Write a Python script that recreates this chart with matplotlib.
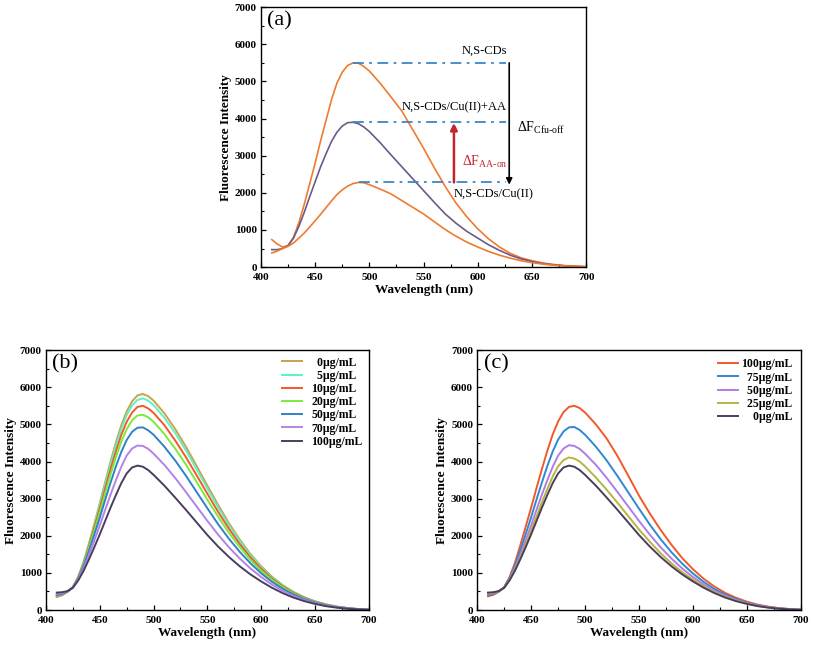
from matplotlib import rcParams
rcParams['font.family'] = 'serif'
rcParams['font.serif'] = ['Liberation Serif', 'DejaVu Serif']
rcParams['mathtext.fontset'] = 'custom'
rcParams['mathtext.rm'] = 'Liberation Serif'
rcParams['mathtext.it'] = 'Liberation Serif:italic'
rcParams['mathtext.bf'] = 'Liberation Serif:bold'
rcParams['xtick.direction'] = 'in'
rcParams['ytick.direction'] = 'in'

import matplotlib.pyplot as plt
from matplotlib.ticker import MultipleLocator

# длины волн, нм
wl = [410, 415, 420, 425, 430, 435, 440, 445, 450, 455, 460, 465, 470, 475,
      480, 485, 490, 495, 500, 510, 520, 530, 540, 550, 560, 570, 580, 590,
      600, 610, 620, 630, 640, 650, 660, 670, 680, 690, 700]

# (a) спектры
a_cds = [740, 620, 540, 580, 800, 1200, 1700, 2250, 2800, 3400, 3950, 4500, 4950,
         5250, 5430, 5500, 5490, 5400, 5280, 4950, 4580, 4200, 3700, 3200, 2670,
         2170, 1720, 1350, 1030, 760, 540, 370, 250, 170, 110, 70, 40, 25, 10]
a_cds_cu_aa = [470, 470, 500, 580, 780, 1100, 1480, 1900, 2300, 2700, 3050, 3380,
               3630, 3800, 3890, 3900, 3860, 3770, 3650, 3350, 3020, 2700, 2380,
               2060, 1740, 1430, 1180, 960, 780, 600, 450, 320, 220, 150, 95, 60,
               35, 18, 8]
a_cds_cu = [380, 430, 500, 560, 650, 780, 920, 1080, 1250, 1420, 1600, 1780, 1950,
            2080, 2180, 2250, 2280, 2270, 2220, 2100, 1970, 1790, 1610, 1430, 1220,
            1010, 830, 670, 540, 420, 320, 240, 170, 120, 80, 50, 30, 18, 10]

# (b) спектры
b_0 = [350, 400, 490, 620, 900, 1300, 1800, 2330, 2880, 3450, 4000, 4520, 4980,
       5350, 5620, 5780, 5820, 5760, 5640, 5300, 4880, 4400, 3880, 3350, 2830,
       2340, 1900, 1510, 1180, 900, 670, 490, 345, 235, 155, 95, 55, 28, 10]
b_5 = [360, 405, 490, 620, 890, 1290, 1770, 2290, 2830, 3390, 3920, 4430, 4880,
       5250, 5510, 5660, 5700, 5640, 5520, 5180, 4770, 4300, 3790, 3270, 2760,
       2280, 1860, 1480, 1150, 880, 660, 480, 340, 230, 150, 90, 55, 27, 10]
b_10 = [370, 410, 495, 615, 885, 1260, 1730, 2230, 2740, 3280, 3790, 4280, 4720,
        5070, 5320, 5470, 5500, 5430, 5310, 4980, 4570, 4120, 3630, 3130, 2640,
        2190, 1780, 1420, 1110, 850, 635, 465, 330, 225, 145, 90, 52, 26, 9]
b_20 = [385, 425, 495, 615, 870, 1230, 1680, 2150, 2640, 3150, 3650, 4120, 4540,
        4870, 5110, 5240, 5260, 5190, 5070, 4740, 4350, 3920, 3450, 2970, 2510,
        2080, 1700, 1350, 1060, 815, 610, 445, 315, 215, 140, 86, 49, 25, 9]
b_50 = [405, 435, 500, 610, 855, 1190, 1600, 2040, 2490, 2970, 3430, 3870, 4260,
        4580, 4800, 4910, 4920, 4840, 4720, 4400, 4030, 3620, 3180, 2740, 2310,
        1920, 1570, 1260, 990, 760, 570, 420, 295, 205, 130, 80, 46, 23, 8]
b_70 = [435, 455, 505, 605, 830, 1130, 1490, 1880, 2280, 2700, 3110, 3500, 3860,
        4160, 4350, 4430, 4420, 4340, 4210, 3910, 3560, 3180, 2790, 2400, 2030,
        1690, 1390, 1120, 890, 685, 515, 380, 270, 185, 120, 75, 40, 21, 7]
b_100 = [470, 480, 510, 600, 800, 1060, 1370, 1700, 2040, 2400, 2760, 3100, 3420,
         3680, 3840, 3890, 3860, 3770, 3640, 3350, 3030, 2700, 2360, 2020, 1710,
         1430, 1180, 960, 770, 600, 455, 335, 240, 165, 105, 65, 35, 18, 6]

# (c) спектры
c_100 = [370, 410, 495, 615, 890, 1270, 1750, 2250, 2760, 3290, 3800, 4290, 4730,
         5080, 5330, 5470, 5500, 5440, 5320, 5000, 4620, 4150, 3620, 3080, 2600,
         2160, 1760, 1400, 1100, 840, 630, 460, 330, 225, 145, 90, 52, 26, 9]
c_75 = [405, 435, 500, 610, 860, 1200, 1610, 2050, 2500, 2980, 3440, 3880, 4270,
        4590, 4810, 4920, 4930, 4850, 4720, 4400, 4030, 3610, 3170, 2730, 2300,
        1910, 1560, 1250, 985, 755, 565, 415, 295, 200, 130, 80, 46, 23, 8]
c_50 = [435, 455, 505, 605, 830, 1130, 1490, 1880, 2280, 2700, 3110, 3500, 3860,
        4160, 4350, 4440, 4420, 4340, 4210, 3910, 3560, 3180, 2790, 2400, 2030,
        1690, 1390, 1120, 890, 685, 515, 380, 270, 185, 120, 75, 40, 21, 7]
c_25 = [455, 470, 510, 600, 810, 1090, 1420, 1770, 2140, 2520, 2900, 3260, 3600,
        3870, 4040, 4110, 4080, 4000, 3870, 3570, 3240, 2890, 2530, 2170, 1840,
        1530, 1260, 1020, 820, 635, 480, 355, 250, 175, 110, 68, 37, 19, 6]
c_0 = [470, 480, 510, 600, 800, 1060, 1370, 1700, 2040, 2400, 2760, 3100, 3420,
       3680, 3840, 3890, 3860, 3770, 3640, 3350, 3030, 2700, 2360, 2020, 1710,
       1430, 1180, 960, 770, 600, 455, 335, 240, 165, 105, 65, 35, 18, 6]

b_labels = ['  0µg/mL', '  5µg/mL', '10µg/mL', '20µg/mL', '50µg/mL', '70µg/mL', '100µg/mL']
b_colors = ['#C9A24C', '#5CF2C6', '#F2592A', '#7DE83C', '#2F82C8', '#B283E6', '#4B3D5E']
c_labels = ['100µg/mL', '  75µg/mL', '  50µg/mL', '  25µg/mL', '    0µg/mL']
c_colors = ['#F2592A', '#2F88D2', '#B07CE6', '#B8B43E', '#4B3D5E']

ORANGE = '#F07A30'
PURPLE = '#6B5A88'
BLUE = '#3A86C8'


def style_axes(ax, letter):
    ax.set_xlim(400, 700)
    ax.set_ylim(0, 7000)
    ax.xaxis.set_major_locator(MultipleLocator(50))
    ax.xaxis.set_minor_locator(MultipleLocator(25))
    ax.yaxis.set_major_locator(MultipleLocator(1000))
    ax.yaxis.set_minor_locator(MultipleLocator(500))
    ax.tick_params(which='major', length=3.5, width=0.9, labelsize=8)
    ax.tick_params(axis='x', which='major', pad=4)
    ax.tick_params(axis='y', which='major', pad=3)
    ax.tick_params(which='minor', length=2, width=0.8)
    for lab in ax.get_xticklabels() + ax.get_yticklabels():
        lab.set_fontweight('bold')
    for sp in ax.spines.values():
        sp.set_linewidth(1.0)
    ax.set_xlabel('Wavelength (nm)', fontsize=9.5, fontweight='bold', labelpad=2)
    ax.set_ylabel('Fluorescence Intensity', fontsize=9.5, fontweight='bold', labelpad=2)
    ax.text(0.02, 0.985, letter, transform=ax.transAxes, fontsize=16,
            va='top', ha='left')


fig = plt.figure(figsize=(8.13, 6.53), dpi=100)

# ---- (a)
ax = fig.add_axes([0.321, 0.591, 0.400, 0.398])
ax.plot(wl, a_cds, color=ORANGE, lw=1.2)
ax.plot(wl, a_cds_cu_aa, color=PURPLE, lw=1.2)
ax.plot(wl, a_cds_cu, color=ORANGE, lw=1.2)
style_axes(ax, '(a)')

x_end = 626
for s in (a_cds, a_cds_cu_aa, a_cds_cu):
    peak = max(s)
    ax.plot([wl[s.index(peak)], x_end], [peak, peak], color=BLUE, lw=1.3,
            ls=(0, (6, 3, 1.5, 3)))
ax.annotate('', xy=(629, max(a_cds_cu) - 60), xytext=(629, max(a_cds)),
            arrowprops=dict(arrowstyle='-|>', color='black', lw=1.2,
                            mutation_scale=9, shrinkA=0, shrinkB=0))
ax.annotate('', xy=(578, max(a_cds_cu_aa) - 20), xytext=(578, max(a_cds_cu)),
            arrowprops=dict(arrowstyle='-|>', color='#C0262C', lw=1.8,
                            mutation_scale=10, shrinkA=0, shrinkB=0))
ax.text(627, 5830, 'N,S-CDs', fontsize=9, ha='right', va='center')
ax.text(627, 4300, 'N,S-CDs/Cu(II)+AA', fontsize=9, ha='right', va='center')
ax.text(636, 3760, r'$\Delta\mathrm{F}_{\mathrm{Cfu\text{-}off}}$', fontsize=10,
        ha='left', va='center')
ax.text(585, 2830, r'$\Delta\mathrm{F}_{\mathrm{AA\text{-}on}}$', fontsize=10,
        ha='left', va='center', color='#C0262C')
ax.text(578, 1960, 'N,S-CDs/Cu(II)', fontsize=9, ha='left', va='center')

# ---- (b)
ax = fig.add_axes([0.0566, 0.0658, 0.397, 0.398])
for s, lab, col in zip([b_0, b_5, b_10, b_20, b_50, b_70, b_100], b_labels, b_colors):
    ax.plot(wl, s, color=col, lw=1.4, label=lab)
style_axes(ax, '(b)')
ax.legend(loc='upper right', frameon=False, handlelength=1.7,
          labelspacing=0.1, borderaxespad=0.15, handletextpad=0.8,
          prop={'weight': 'bold', 'size': 8.5})

# ---- (c)
ax = fig.add_axes([0.587, 0.0658, 0.398, 0.398])
for s, lab, col in zip([c_100, c_75, c_50, c_25, c_0], c_labels, c_colors):
    ax.plot(wl, s, color=col, lw=1.4, label=lab)
style_axes(ax, '(c)')
ax.legend(loc='upper right', frameon=False, handlelength=1.7,
          labelspacing=0.1, borderaxespad=0.3, handletextpad=0.3,
          prop={'weight': 'bold', 'size': 8.5})

plt.savefig('out.png', dpi=100)
